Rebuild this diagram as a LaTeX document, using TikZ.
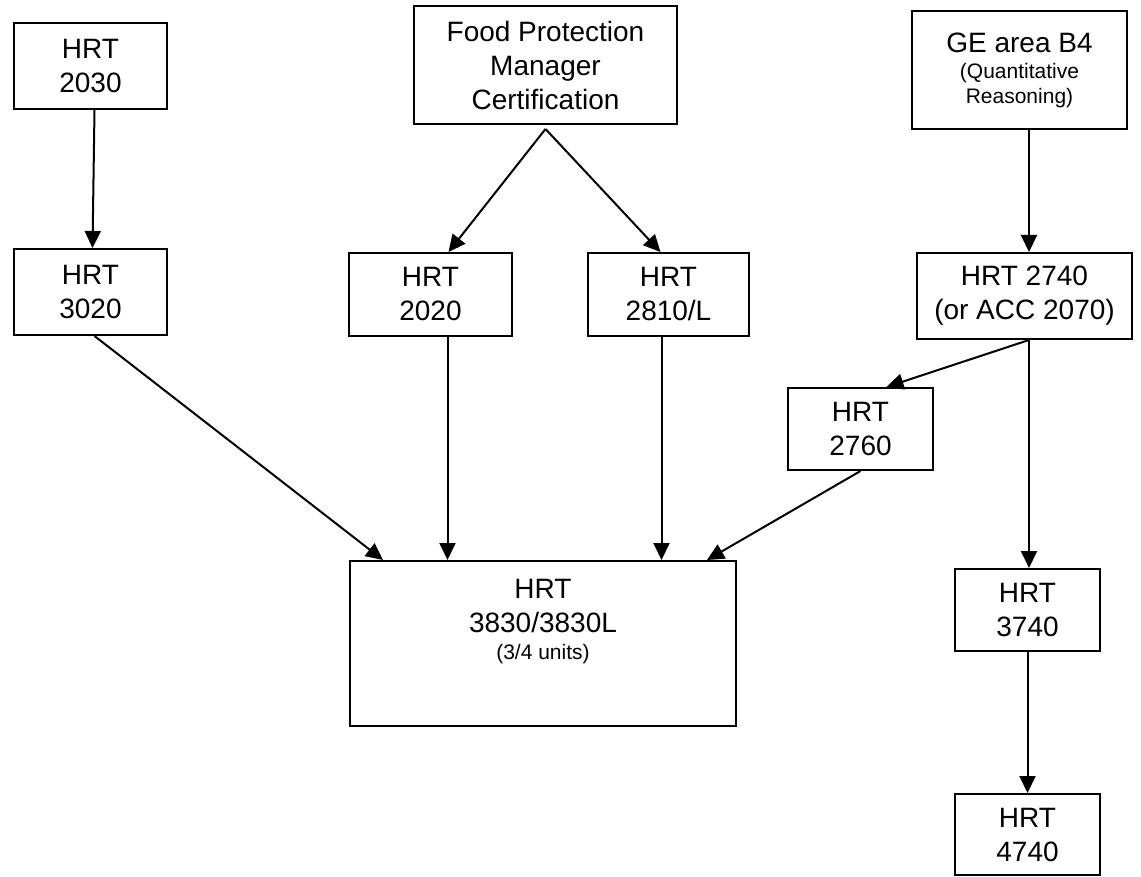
\documentclass[tikz,border=0pt]{standalone}
\usepackage{fontspec}
\setmainfont{Liberation Sans}
\usetikzlibrary{positioning,arrows.meta}

\newcommand{\bigtxt}{\fontsize{28}{34}\selectfont}
\newcommand{\smalltxt}{\fontsize{21}{25}\selectfont}

\begin{document}
\begin{tikzpicture}[x=1pt,y=-1pt,
 box/.style={draw=black,line width=2pt,inner sep=0pt,align=center,font=\bigtxt},
 arr/.style={-{Triangle[length=17pt,width=16pt]},line width=2pt}]
\useasboundingbox[fill=white] (0,0) rectangle (1141,877);
\node[box,minimum width=153pt,minimum height=86pt] (hrt2030) at (90.5,66) {HRT\\2030};
\node[box,minimum width=153pt,minimum height=86pt] (hrt3020) at (90.5,292) {HRT\\3020};
\node[box,minimum width=263pt,minimum height=118pt] (food) at (545.5,65) {Food Protection\\Manager\\Certification};
\node[box,minimum width=163pt,minimum height=83pt] (hrt2020) at (430.5,294.5) {HRT\\2020};
\node[box,minimum width=161pt,minimum height=83pt] (hrt2810) at (668.5,294.5) {HRT\\2810/L};
\node[box,minimum width=215pt,minimum height=118pt] (ge) at (1019.5,70) {GE area B4\\[-8pt]\smalltxt (Quantitative\\[-9pt]\smalltxt Reasoning)};
\node[box,minimum width=215pt,minimum height=86pt] (hrt2740) at (1024.5,296) {HRT 2740\\(or ACC 2070)};
\node[box,minimum width=145pt,minimum height=82pt] (hrt2760) at (860.5,429) {HRT\\2760};
\node[box,minimum width=386pt,text height=98pt,text depth=67pt,anchor=north] (hrt3830) at (543,560) {HRT\\3830/3830L\\[-7pt]\smalltxt (3/4 units)};
\node[box,minimum width=145pt,minimum height=82pt] (hrt3740) at (1027.5,610) {HRT\\3740};
\node[box,minimum width=145pt,minimum height=81pt] (hrt4740) at (1027.5,834.5) {HRT\\4740};
% prerequisites
\draw[arr] ([xshift=4pt]hrt2030.south) -- ([xshift=2pt]hrt3020.north);
\draw[arr] ([yshift=-4pt]food.south) -- ([xshift=18pt]hrt2020.north);
\draw[arr] ([yshift=-4pt]food.south) -- ([xshift=-8pt]hrt2810.north);
\draw[arr] ([xshift=4pt]hrt3020.south) -- ([xshift=-160pt]hrt3830.north);
\draw[arr] ([xshift=17pt]hrt2020.south) -- ([xshift=17pt]hrt2020.south |- hrt3830.north);
\draw[arr] ([xshift=-7pt]hrt2810.south) -- ([xshift=-7pt]hrt2810.south |- hrt3830.north);
\draw[arr] (hrt2760.south) -- ([xshift=164pt]hrt3830.north);
\draw[arr] ([xshift=9.5pt]ge.south) -- ([xshift=9.5pt]ge.south |- hrt2740.north);
\draw[arr] ([xshift=4.5pt]hrt2740.south) -- ([xshift=26pt]hrt2760.north);
\draw[arr] ([xshift=4.5pt]hrt2740.south) -- ([xshift=4.5pt]hrt2740.south |- hrt3740.north);
\draw[arr] (hrt3740.south) -- (hrt4740.north);
\end{tikzpicture}
\end{document}
